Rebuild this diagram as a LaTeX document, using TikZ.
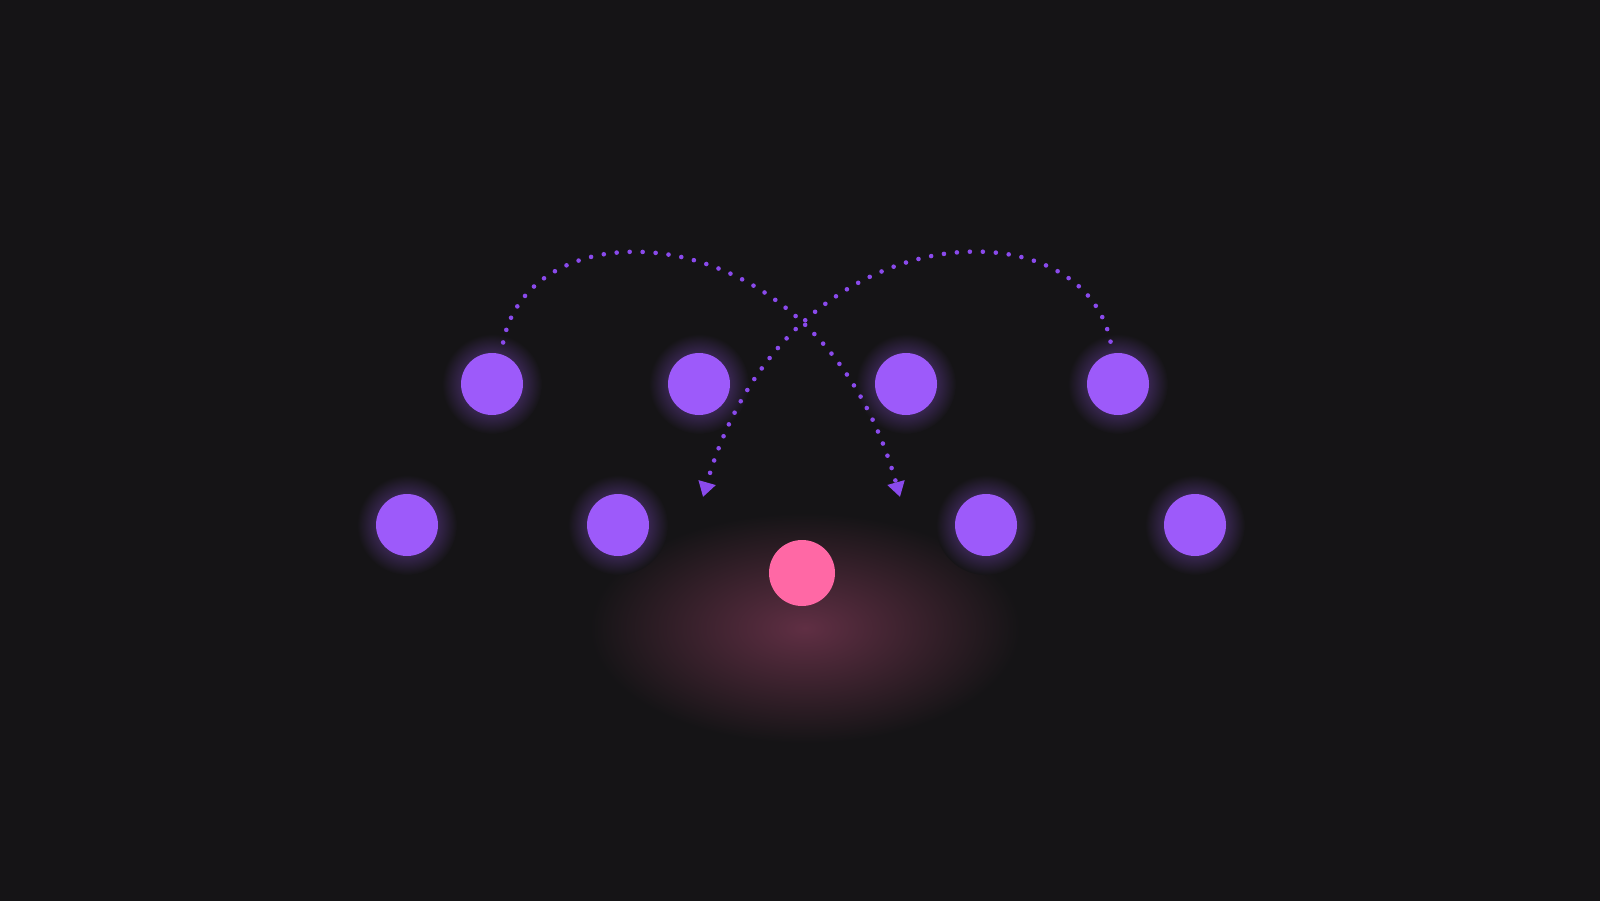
\documentclass[tikz,border=0pt]{standalone}
\usepackage{tikz}
\usetikzlibrary{arrows.meta}
\definecolor{bgdark}{RGB}{21,20,22}
\definecolor{dotviolet}{RGB}{157,90,250}
\definecolor{dotpink}{RGB}{255,104,165}
\definecolor{hopviolet}{RGB}{138,74,236}
\tikzset{
  dot/.style={circle,fill=dotviolet,minimum size=62pt,inner sep=0pt,outer sep=12pt},
  halo/.style={circle,minimum size=100pt,inner sep=0pt,inner color=dotviolet!65!bgdark,outer color=bgdark},
  hop/.style={hopviolet,line width=4.6pt,line cap=round,dash pattern=on 0pt off 13pt,-{Triangle[length=15pt,width=17pt]}}
}
\begin{document}
\begin{tikzpicture}[x=1pt,y=-1pt]
\fill[bgdark] (0,0) rectangle (1600,901);
\shade[inner color=dotpink!32!bgdark,outer color=bgdark] (805,628) ellipse (215 and 115);

\node[halo] (h1) at (492,384) {}; \node[dot] (t1) at (h1) {};
\node[halo] (h2) at (699,384) {}; \node[dot] (t2) at (h2) {};
\node[halo] (h3) at (906,384) {}; \node[dot] (t3) at (h3) {};
\node[halo] (h4) at (1118,384) {}; \node[dot] (t4) at (h4) {};
\node[halo] (h5) at (407,525) {}; \node[dot] (b1) at (h5) {};
\node[halo] (h6) at (618,525) {}; \node[dot] (b2) at (h6) {};
\node[halo] (h7) at (986,525) {}; \node[dot] (b3) at (h7) {};
\node[halo] (h8) at (1195,525) {}; \node[dot] (b4) at (h8) {};
\node[circle,fill=dotpink,minimum size=66pt,inner sep=0pt] (p) at (802,573) {};

\coordinate (e1) at (900,497);
\coordinate (e2) at (703,497);
\draw[hop] (t1.75) .. controls (530,200) and (820,210) .. (e1);
\draw[hop] (t4.100) .. controls (1082,200) and (785,210) .. (e2);
\end{tikzpicture}
\end{document}
